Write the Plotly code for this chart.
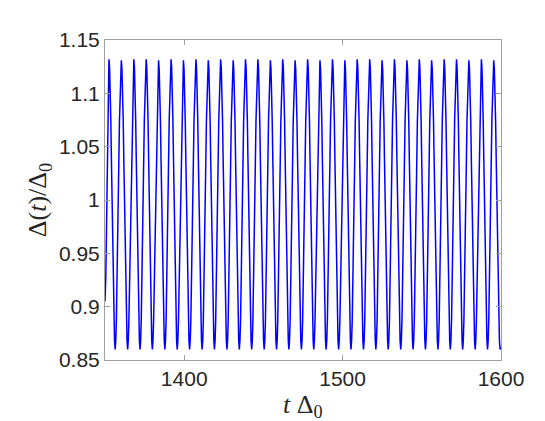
import plotly.graph_objects as go

# values
t_start, v_start = 1350.0, 0.905
peak_t = [1352.5, 1360.3, 1368.2, 1376.0, 1383.8, 1391.7, 1399.5, 1407.4,
          1415.2, 1423.0, 1430.9, 1438.7, 1446.5, 1454.4, 1462.2, 1470.0,
          1477.9, 1485.7, 1493.6, 1501.4, 1509.2, 1517.1, 1524.9, 1532.7,
          1540.6, 1548.4, 1556.2, 1564.1, 1571.9, 1579.7, 1587.6, 1595.4]
peak_v = [1.132, 1.131, 1.132, 1.132, 1.131, 1.132, 1.131, 1.132,
          1.131, 1.132, 1.131, 1.132, 1.132, 1.131, 1.132, 1.131,
          1.132, 1.131, 1.132, 1.131, 1.132, 1.132, 1.131, 1.132,
          1.131, 1.132, 1.131, 1.132, 1.132, 1.131, 1.132, 1.131]
trough_t = [1356.4, 1364.3, 1372.1, 1379.9, 1387.8, 1395.6, 1403.4, 1411.3,
            1419.1, 1427.0, 1434.8, 1442.6, 1450.5, 1458.3, 1466.1, 1474.0,
            1481.8, 1489.6, 1497.5, 1505.3, 1513.2, 1521.0, 1528.8, 1536.7,
            1544.5, 1552.3, 1560.2, 1568.0, 1575.8, 1583.7, 1591.5, 1599.4]
trough_v = [0.860] * 32
t_end, v_end = 1600.0, 0.862

# shape of one rise (trough -> peak), as fraction of time and of height
half_phase = [0.0, 0.1, 0.2, 0.3, 0.4, 0.5, 0.6, 0.7, 0.8, 0.9, 1.0]
half_level = [0.0, 0.03, 0.1, 0.21, 0.35, 0.5, 0.65, 0.79, 0.9, 0.97, 1.0]

# chain the read extrema
ext_t = [t_start]
ext_v = [v_start]
for i in range(len(peak_t)):
    ext_t += [peak_t[i], trough_t[i]]
    ext_v += [peak_v[i], trough_v[i]]

xs, ys = [t_start], [v_start]
for i in range(1, len(ext_t)):
    t0, t1 = ext_t[i - 1], ext_t[i]
    v0, v1 = ext_v[i - 1], ext_v[i]
    for p, l in zip(half_phase[1:], half_level[1:]):
        xs.append(t0 + p * (t1 - t0))
        ys.append(v0 + l * (v1 - v0))
xs.append(t_end)
ys.append(v_end)

fig = go.Figure()
fig.add_trace(go.Scatter(x=xs, y=ys, mode='lines',
                         line=dict(color='#0000ff', width=1.5),
                         showlegend=False))

ax = dict(showline=True, linecolor='#a0a0a0', linewidth=1, mirror='ticks',
          ticks='inside', ticklen=5, tickcolor='#a0a0a0', showgrid=False,
          zeroline=False,
          tickfont=dict(family='Liberation Sans, Arial', size=21, color='#262626'))
title_font = dict(family='Liberation Serif, DejaVu Serif', size=26, color='#262626')

fig.update_layout(
    width=545, height=421,
    margin=dict(l=97, r=52, t=32, b=69),
    paper_bgcolor='white', plot_bgcolor='white',
    xaxis=dict(ax, range=[1350, 1600], tickvals=[1400, 1500, 1600]),
    yaxis=dict(ax, range=[0.85, 1.15],
               tickvals=[0.85, 0.9, 0.95, 1, 1.05, 1.1, 1.15],
               ticktext=['0.85', '0.9', '0.95', '1', '1.05', '1.1', '1.15'],
               title=dict(text='Δ(<i>t</i>)/Δ<sub>0</sub>', standoff=4, font=title_font)),
)
# x title as an annotation so it stays clear of the bottom edge
fig.add_annotation(text='<i>t</i> Δ<sub>0</sub>', xref='paper', yref='paper',
                   x=0.5, y=-0.2, xanchor='center', yanchor='bottom',
                   showarrow=False, font=title_font)

fig.write_html("out.html")
